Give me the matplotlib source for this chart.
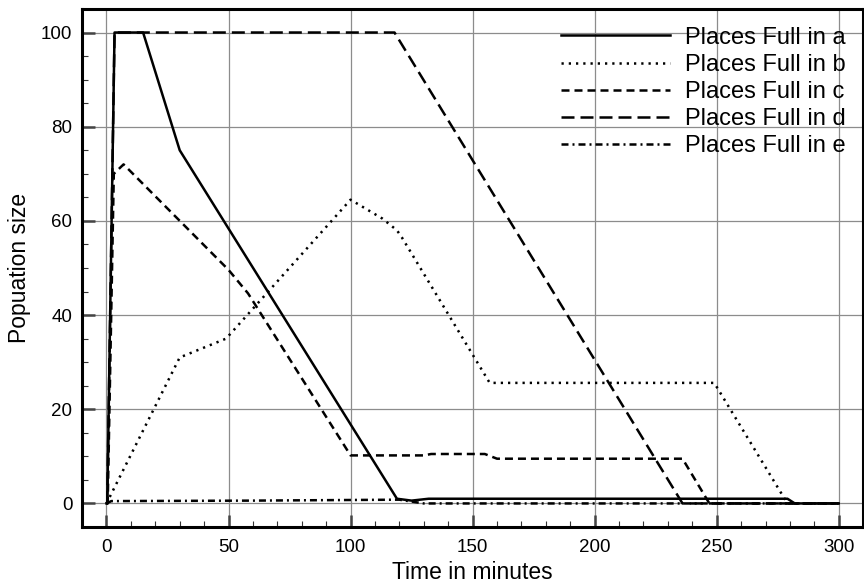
import matplotlib
matplotlib.use('Agg')
import matplotlib.pyplot as plt

plt.rcParams['font.family'] = ['Liberation Sans', 'DejaVu Sans']

# Data
t_a = [0, 0.3, 3.3, 15, 30, 119, 125, 132, 279, 282, 300]
places_a = [0, 0, 100, 100, 75, 1, 0.6, 1, 1, 0, 0]

t_b = [0, 30, 49, 100, 113, 119, 121, 157, 249, 279, 300]
places_b = [0, 31, 35, 64.5, 60.5, 58, 56.5, 25.6, 25.6, 0, 0]

t_c = [0, 0.5, 3, 7, 50, 58, 100, 130, 133, 155, 160, 236, 247, 300]
places_c = [0, 0, 70, 72, 49.6, 44.6, 10.2, 10.2, 10.5, 10.5, 9.5, 9.5, 0, 0]

t_d = [0, 0.3, 3.3, 118, 236, 300]
places_d = [0, 0, 100, 100, 0, 0]

t_e = [0, 2, 60, 120, 130, 300]
places_e = [0, 0.5, 0.6, 0.8, 0, 0]

series = [
    (t_a, places_a, 'Places Full in a', '-'),
    (t_b, places_b, 'Places Full in b', (0, (0.9, 2))),
    (t_c, places_c, 'Places Full in c', (0, (3.2, 2))),
    (t_d, places_d, 'Places Full in d', (0, (5.2, 2.4))),
    (t_e, places_e, 'Places Full in e', (0, (2.8, 1.6, 0.8, 1.6))),
]

fig = plt.figure(figsize=(8.64, 5.86), dpi=100)
ax = fig.add_axes([0.095, 0.1007, 0.904, 0.884])

for t, vals, label, ls in series:
    ax.plot(t, vals, color='black', linestyle=ls, linewidth=1.8, label=label)

ax.set_xlim(-10, 310)
ax.set_ylim(-5, 105)
ax.set_xticks(range(0, 301, 50))
ax.set_xticks(range(0, 301, 10), minor=True)
ax.set_yticks(range(0, 101, 20))
ax.set_yticks(range(0, 101, 5), minor=True)

ax.grid(True, which='major', color='#8c8c8c', linewidth=0.9)
ax.set_axisbelow(True)

ax.tick_params(which='major', direction='in', length=9, width=1.8, color='#444444',
               labelsize=13.5, top=False, right=False)
ax.tick_params(axis='x', which='major', pad=9)
ax.tick_params(axis='y', which='major', pad=7)
ax.tick_params(which='minor', direction='in', length=4, width=0.8, color='#333333',
               top=False, right=False)

for s in ax.spines.values():
    s.set_linewidth(2.2)

ax.set_xlabel('Time in minutes', fontsize=16.5, labelpad=3)
ax.set_ylabel('Popuation size', fontsize=16.5, labelpad=7)

ax.legend(loc='upper right', frameon=False, fontsize=17, handlelength=4.6,
          handletextpad=0.64, labelspacing=0.22, borderaxespad=0.2, borderpad=0.55)

fig.savefig('out.png', dpi=100)
